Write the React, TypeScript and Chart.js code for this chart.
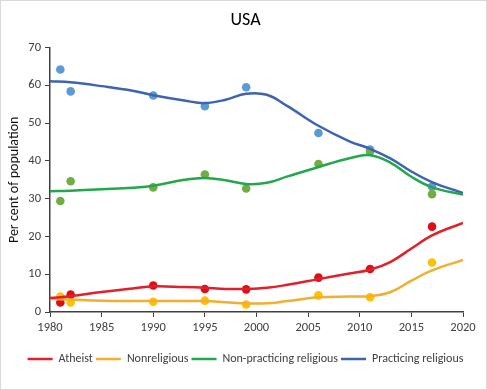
import React, { useEffect, useRef } from "react";
import { Chart, registerables } from "chart.js";

Chart.register(...registerables);

const pointYears = [1981, 1982, 1990, 1995, 1999, 2006, 2011, 2017];
const atheistPts = [2.5, 4.6, 7.0, 6.1, 6.0, 9.1, 11.4, 22.6];
const nonreligiousPts = [4.1, 2.5, 2.7, 3.0, 2.0, 4.4, 3.9, 13.1];
const nonPracticingPts = [29.4, 34.6, 33.0, 36.4, 32.7, 39.2, 42.5, 31.2];
const practicingPts = [64.2, 58.4, 57.3, 54.5, 59.5, 47.4, 43.0, 33.2];

const curveYears = [1980, 1982, 1985, 1988, 1990, 1993, 1995, 1997, 1999, 2001, 2003, 2006, 2009, 2011, 2013, 2015, 2017, 2020];
const atheistCurve = [3.7, 4.2, 5.3, 6.2, 6.8, 6.6, 6.4, 6.1, 6.1, 6.4, 7.2, 8.7, 10.2, 11.2, 13.3, 16.8, 20.3, 23.6];
const nonreligiousCurve = [3.5, 3.3, 3.0, 2.9, 2.9, 2.9, 2.9, 2.6, 2.3, 2.3, 2.9, 3.9, 4.1, 4.2, 5.3, 8.3, 11.0, 13.8];
const nonPracticingCurve = [32.0, 32.1, 32.5, 32.9, 33.4, 35.0, 35.5, 34.9, 33.9, 34.2, 35.9, 38.4, 40.7, 41.5, 39.5, 35.8, 33.0, 31.1];
const practicingCurve = [61.1, 60.8, 59.8, 58.6, 57.4, 56.0, 55.3, 56.2, 57.8, 57.5, 54.5, 49.3, 45.2, 43.2, 40.6, 37.2, 34.4, 31.5];

const seriesNames = ["Atheist", "Nonreligious", "Non-practicing religious", "Practicing religious"];
const lineColors = ["#e0202a", "#f2ae2e", "#22a84a", "#3d63b2"];
const pointColors = ["#e00d14", "#ffc000", "#70ad47", "#5b9bd5"];

const xTicks = [1980, 1985, 1990, 1995, 2000, 2005, 2010, 2015, 2020];
const yTicks = [0, 10, 20, 30, 40, 50, 60, 70];

const FONT = "Carlito, Lato, 'Liberation Sans', sans-serif";

export default function App() {
  const ref = useRef<HTMLCanvasElement | null>(null);

  useEffect(() => {
    if (!ref.current) return;
    const curves = [atheistCurve, nonreligiousCurve, nonPracticingCurve, practicingCurve];
    const pts = [atheistPts, nonreligiousPts, nonPracticingPts, practicingPts];
    const lineSets = curves.map((c, i) => ({
      type: "line" as const,
      label: seriesNames[i],
      data: curveYears.map((x, j) => ({ x, y: c[j] })),
      borderColor: lineColors[i],
      backgroundColor: lineColors[i],
      borderWidth: 2.5,
      pointRadius: 0,
      tension: 0.4,
      fill: false,
      yAxisID: "y",
    }));
    const pointSets = pts.map((p, i) => ({
      type: "scatter" as const,
      label: seriesNames[i] + " points",
      data: pointYears.map((x, j) => ({ x, y: p[j] })),
      borderColor: pointColors[i],
      backgroundColor: pointColors[i],
      pointRadius: 4.3,
      pointBorderWidth: 0,
      showLine: false,
      yAxisID: "y",
    }));
    const chart = new Chart(ref.current, {
      type: "line",
      data: { datasets: [...lineSets, ...pointSets] as any },
      options: {
        animation: false,
        responsive: false,
        layout: { padding: { top: 1, right: 1, left: 5, bottom: 14 } },
        plugins: {
          title: {
            display: true,
            text: "USA",
            color: "#000",
            font: { family: FONT, size: 18, weight: "normal" },
            padding: { top: 8, bottom: 16 },
          },
          legend: {
            position: "bottom",
            labels: {
              filter: (item: any) => item.datasetIndex < 4,
              usePointStyle: true,
              pointStyle: "line",
              pointStyleWidth: 25,
              boxHeight: 8,
              color: "#404040",
              padding: 3,
              font: { family: FONT, size: 12 },
            },
          },
          tooltip: { enabled: false },
        },
        scales: {
          x: {
            type: "linear",
            min: 1980,
            max: 2020,
            afterBuildTicks: (axis: any) => {
              axis.ticks = xTicks.map((v) => ({ value: v }));
            },
            afterFit: (scale: any) => {
              scale.height += 12;
            },
            ticks: {
              color: "#404040",
              font: { family: FONT, size: 12.5 },
              callback: (v: any) => String(v),
              maxRotation: 0,
              padding: 3,
            },
            grid: { drawOnChartArea: false, drawTicks: true, tickLength: 5, color: "#404040" },
            border: { color: "#404040", width: 1.5 },
          },
          y: {
            min: 0,
            max: 70,
            afterBuildTicks: (axis: any) => {
              axis.ticks = yTicks.map((v) => ({ value: v }));
            },
            afterFit: (scale: any) => {
              scale.width = 44;
            },
            ticks: {
              color: "#404040",
              font: { family: FONT, size: 12.5 },
              padding: 4,
            },
            title: {
              display: true,
              text: "Per cent of population",
              color: "#111",
              font: { family: FONT, size: 14 },
              padding: { top: 0, bottom: 0 },
            },
            grid: { drawOnChartArea: false, drawTicks: true, tickLength: 5, color: "#404040" },
            border: { color: "#404040", width: 1.5 },
          },
          yr: {
            position: "right",
            display: true,
            min: 0,
            max: 70,
            ticks: { display: false },
            grid: { display: false },
            border: { display: false },
            afterFit: (scale: any) => {
              scale.width = 22;
            },
          },
        },
      },
    });
    return () => chart.destroy();
  }, []);

  return (
    <div
      style={{
        position: "fixed",
        left: 0,
        top: 0,
        width: 487,
        height: 390,
        boxSizing: "border-box",
        border: "1px solid #d9d9d9",
        background: "#fff",
      }}
    >
      <canvas ref={ref} width={485} height={388} style={{ display: "block" }} />
    </div>
  );
}
